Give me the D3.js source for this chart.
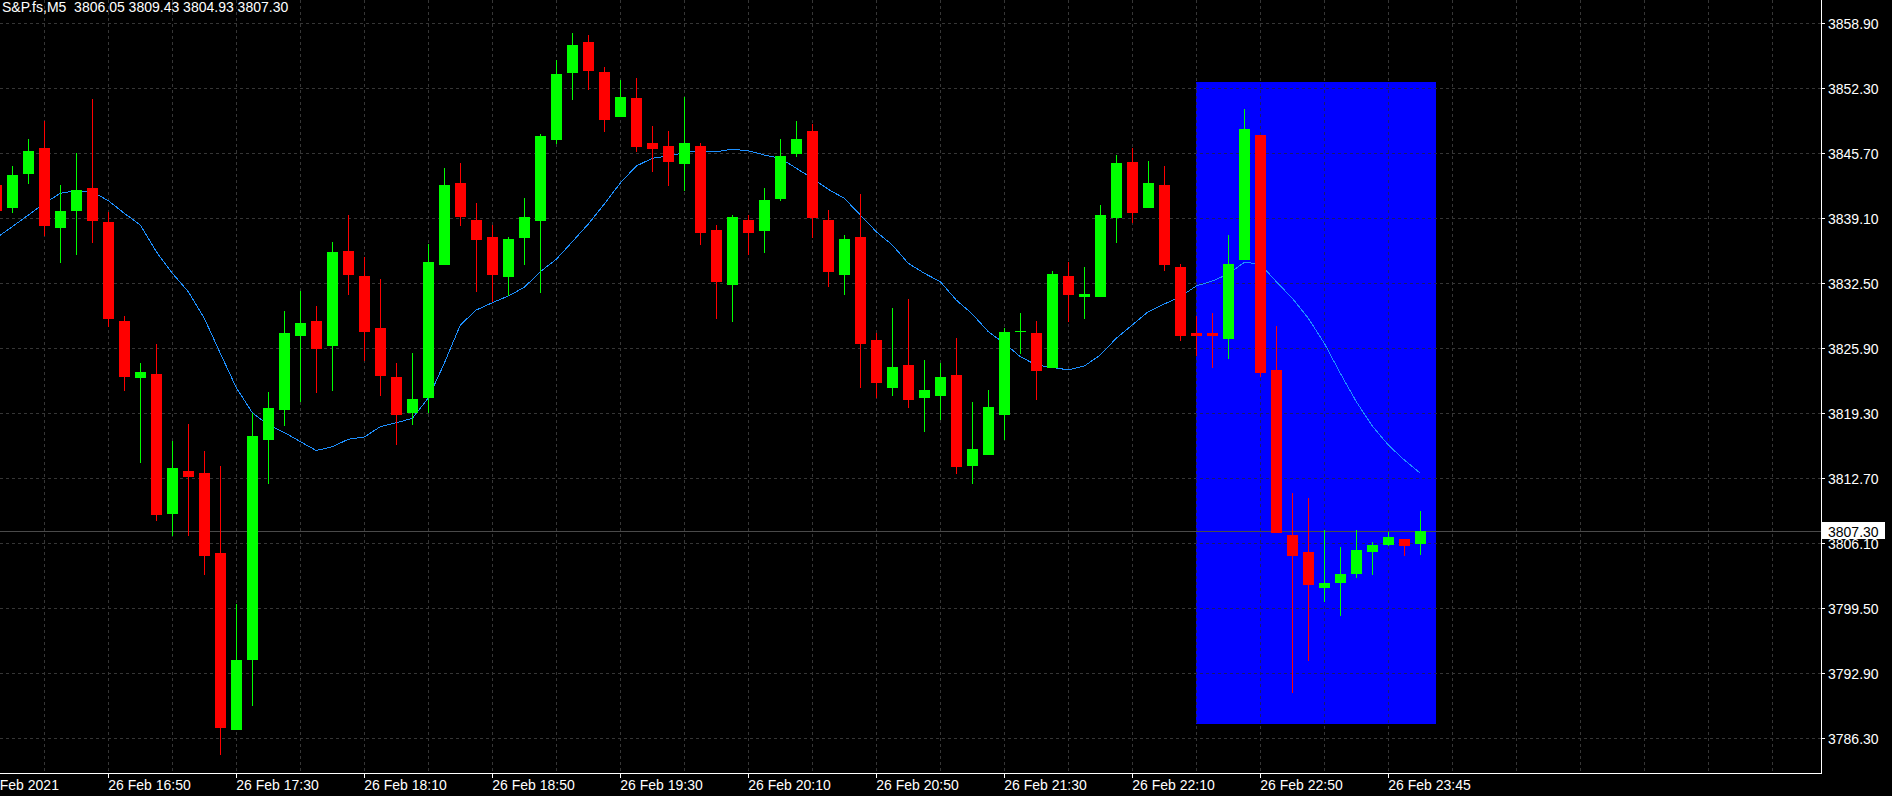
<!DOCTYPE html>
<html><head><meta charset="utf-8">
<script src="https://cdn.jsdelivr.net/npm/d3@7"></script>
<style>html,body{margin:0;padding:0;background:#000;overflow:hidden}</style>
</head><body>
<svg id="chart" width="1892" height="796"></svg>
<script>
// ---------- DATA ----------
const symbolTitle = "S&P.fs,M5";
const firstBar = -1;   // index of first candle (relative bar number)
const openP = [3842.48,3840.18,3843.63,3846.24,3838.15,3839.87,3842.18,3838.72,3828.67,3822.91,
3823.29,3809.10,3813.44,3813.24,3805.11,3787.14,3794.25,3816.59,3819.67,3827.18,
3828.67,3826.16,3835.78,3833.24,3827.96,3822.99,3819.33,3820.88,3834.39,3842.68,
3838.93,3837.20,3833.14,3837.10,3838.83,3847.08,3853.88,3857.00,3853.96,3849.39,
3851.32,3846.75,3846.44,3844.64,3846.44,3837.91,3832.36,3838.93,3837.84,3841.09,
3845.66,3847.96,3838.93,3833.37,3837.20,3826.74,3821.90,3824.20,3820.88,3821.09,
3823.19,3813.98,3815.10,3819.16,3827.55,3827.45,3823.93,3833.24,3831.14,3831.14,
3839.16,3844.82,3840.18,3842.48,3834.15,3827.45,3827.45,3826.87,3834.90,3847.56,
3823.69,3806.94,3805.22,3801.59,3802.10,3803.01,3805.25,3805.96,3806.54,3806.05];
const highP = [3842.70,3844.41,3847.15,3848.98,3842.48,3845.73,3851.21,3839.77,3829.18,3824.38,
3826.31,3816.49,3818.21,3815.47,3813.95,3799.94,3819.30,3821.46,3829.69,3831.72,
3830.20,3836.69,3839.43,3835.17,3832.94,3824.41,3825.42,3836.49,3844.21,3844.71,
3840.65,3838.42,3837.20,3841.16,3847.66,3855.17,3857.92,3857.71,3854.46,3853.14,
3853.35,3848.47,3847.96,3851.42,3846.75,3838.42,3839.43,3839.43,3842.18,3847.15,
3848.98,3848.68,3839.94,3837.40,3841.57,3827.45,3829.99,3830.91,3824.71,3824.41,
3826.95,3820.45,3821.67,3827.96,3829.48,3828.67,3833.75,3834.66,3834.15,3840.45,
3845.53,3846.24,3844.92,3844.41,3834.46,3829.18,3829.48,3837.40,3850.20,3847.56,
3828.16,3811.21,3810.70,3807.45,3805.72,3807.45,3806.23,3807.25,3806.54,3809.43];
const lowP = [3839.60,3839.67,3842.61,3837.30,3834.59,3835.40,3836.62,3828.06,3821.56,3814.22,
3808.39,3806.87,3806.87,3802.88,3784.60,3787.14,3789.61,3812.15,3818.04,3820.48,
3821.36,3821.59,3831.31,3824.61,3821.09,3816.11,3818.11,3819.36,3834.39,3838.35,
3831.65,3830.63,3831.24,3834.36,3831.51,3846.67,3851.14,3852.16,3847.89,3849.39,
3845.83,3843.83,3842.41,3841.90,3836.42,3828.87,3828.60,3835.40,3835.61,3840.89,
3845.35,3837.13,3832.15,3831.34,3821.90,3820.88,3821.09,3819.87,3817.43,3818.65,
3813.17,3812.15,3815.10,3816.62,3825.35,3820.68,3823.93,3828.60,3828.87,3831.14,
3836.62,3838.65,3840.18,3833.78,3826.67,3825.15,3823.93,3824.84,3834.90,3823.02,
3807.14,3790.90,3794.18,3800.17,3798.75,3802.61,3802.88,3805.86,3804.84,3804.93];
const closeP = [3839.87,3843.50,3845.93,3838.35,3839.84,3841.97,3838.86,3828.91,3823.02,3823.46,
3808.97,3813.75,3812.83,3804.84,3787.38,3794.25,3817.00,3819.84,3827.45,3828.47,
3825.83,3835.68,3833.34,3827.59,3823.12,3819.16,3820.75,3834.66,3842.48,3839.26,
3836.93,3833.34,3837.00,3839.23,3847.46,3853.75,3856.70,3854.09,3849.11,3851.42,
3846.34,3846.14,3844.85,3846.75,3837.64,3832.66,3839.23,3837.64,3840.96,3845.43,
3847.15,3839.16,3833.68,3837.00,3826.37,3822.41,3824.00,3820.68,3821.67,3822.99,
3813.88,3815.67,3819.94,3827.55,3827.66,3823.62,3833.44,3831.34,3831.41,3839.43,
3844.71,3839.67,3842.68,3834.39,3827.18,3827.18,3827.18,3834.46,3848.17,3823.42,
3807.14,3804.84,3801.90,3802.07,3802.98,3805.42,3805.93,3806.74,3805.86,3807.30];
const maP = [3837.10,3838.25,3839.43,3840.62,3841.64,3841.90,3841.80,3840.89,3839.61,3838.42,
3835.71,3833.52,3831.65,3828.95,3825.39,3821.90,3819.36,3818.11,3817.35,3816.42,
3815.52,3815.91,3816.66,3816.89,3817.94,3818.34,3818.79,3820.85,3824.38,3828.27,
3829.79,3830.53,3831.21,3832.09,3833.68,3834.94,3836.72,3838.52,3840.55,3842.68,
3844.41,3845.19,3845.43,3845.76,3845.96,3845.86,3846.11,3845.96,3845.53,3845.19,
3844.18,3843.16,3842.04,3841.13,3839.43,3837.74,3836.39,3834.53,3833.52,3832.66,
3830.80,3829.38,3827.59,3826.41,3825.05,3824.20,3823.97,3823.70,3824.10,3825.22,
3826.92,3828.27,3829.62,3830.40,3831.14,3832.23,3832.73,3833.44,3834.63,3834.46,
3832.66,3830.98,3828.95,3826.41,3823.36,3820.48,3818.01,3816.08,3814.56,3813.21];
const priceTicks = [3858.90,3852.30,3845.70,3839.10,3832.50,3825.90,3819.30,3812.70,3806.10,3799.50,3792.90,3786.30];
const timeTickBars = [-2,6,14,22,30,38,46,54,62,70,78,86];
const timeTickLabels = ["26 Feb 2021","26 Feb 16:50","26 Feb 17:30","26 Feb 18:10","26 Feb 18:50","26 Feb 19:30",
  "26 Feb 20:10","26 Feb 20:50","26 Feb 21:30","26 Feb 22:10","26 Feb 22:50","26 Feb 23:45"];
const lastPrice = 3807.30;
const rectBars = [74, 89];
const rectPrices = [3852.94, 3787.75];

// ---------- LAYOUT ----------
const W = 1892, H = 796;
const plotR = 1821, plotB = 773;
const FONT = "'Liberation Sans', Arial, sans-serif";

const svg = d3.select("#chart");
svg.append("rect").attr("width", W).attr("height", H).attr("fill", "#000");

const x = d3.scaleLinear().domain([-1, 88]).range([-3.7, 1420.3]);
const y = d3.scaleLinear().domain([3786.3, 3858.9]).range([738.3, 23.3]);

const defs = svg.append("defs");
defs.append("clipPath").attr("id", "plotClip").append("rect")
  .attr("x", 0).attr("y", 0).attr("width", plotR).attr("height", plotB);
const rx0 = x(rectBars[0]), rx1 = x(rectBars[1]);
const ry0 = y(rectPrices[0]), ry1 = y(rectPrices[1]);
defs.append("clipPath").attr("id", "rectClip").append("rect")
  .attr("x", rx0).attr("y", ry0).attr("width", rx1 - rx0).attr("height", ry1 - ry0);

const plot = svg.append("g").attr("clip-path", "url(#plotClip)");

// blue rectangle object
plot.append("rect")
  .attr("x", Math.round(rx0)).attr("y", Math.round(ry0))
  .attr("width", Math.round(rx1) - Math.round(rx0)).attr("height", Math.round(ry1) - Math.round(ry0))
  .attr("fill", "#0000ff");

// grid
const vGridBars = d3.range(2, 114, 4);
function drawGrid(g, color) {
  g.attr("shape-rendering", "crispEdges");
  g.selectAll("line.h").data(priceTicks).join("line")
    .attr("x1", 0).attr("x2", plotR)
    .attr("y1", d => Math.floor(y(d)) + 0.5).attr("y2", d => Math.floor(y(d)) + 0.5)
    .attr("stroke", color).attr("stroke-dasharray", "3,3");
  g.selectAll("line.v").data(vGridBars).join("line")
    .attr("y1", 0).attr("y2", plotB)
    .attr("x1", d => Math.floor(x(d)) + 0.5).attr("x2", d => Math.floor(x(d)) + 0.5)
    .attr("stroke", color).attr("stroke-dasharray", "3,3");
}
drawGrid(plot.append("g").attr("class", "grid"), "#363636");
drawGrid(plot.append("g").attr("clip-path", "url(#rectClip)"), "#1a1a6e");

// last price line
plot.append("line").attr("x1", 0).attr("x2", plotR)
  .attr("y1", Math.floor(y(lastPrice)) + 0.5).attr("y2", Math.floor(y(lastPrice)) + 0.5)
  .attr("stroke", "#4a4a4a").attr("shape-rendering", "crispEdges");

// moving average
const idx = d3.range(openP.length);
plot.append("path")
  .datum(idx)
  .attr("d", d3.line().x(i => x(firstBar + i)).y(i => y(maP[i])))
  .attr("fill", "none").attr("stroke", "#1e90ff").attr("stroke-width", 1)
  .attr("shape-rendering", "crispEdges");

// candles
const cg = plot.append("g").attr("shape-rendering", "crispEdges");
const col = i => closeP[i] >= openP[i] ? "#00ff00" : "#ff0000";
cg.selectAll("rect.wick").data(idx).join("rect")
  .attr("x", i => Math.floor(x(firstBar + i)))
  .attr("width", 1)
  .attr("y", i => Math.round(y(highP[i])))
  .attr("height", i => Math.max(1, Math.round(y(lowP[i])) - Math.round(y(highP[i]))))
  .attr("fill", col);
cg.selectAll("rect.body").data(idx).join("rect")
  .attr("x", i => Math.floor(x(firstBar + i)) - 5)
  .attr("width", 11)
  .attr("y", i => Math.round(y(Math.max(openP[i], closeP[i]))))
  .attr("height", i => Math.max(1, Math.round(y(Math.min(openP[i], closeP[i]))) - Math.round(y(Math.max(openP[i], closeP[i])))))
  .attr("fill", col);

// axes
svg.append("line").attr("x1", plotR + 0.5).attr("x2", plotR + 0.5).attr("y1", 0).attr("y2", plotB + 1)
  .attr("stroke", "#fff");
svg.append("line").attr("x1", 0).attr("x2", plotR + 1).attr("y1", plotB + 0.5).attr("y2", plotB + 0.5)
  .attr("stroke", "#fff");

// price labels
const pg = svg.append("g");
pg.selectAll("line").data(priceTicks).join("line")
  .attr("x1", plotR).attr("x2", plotR + 4)
  .attr("y1", d => Math.floor(y(d)) + 0.5).attr("y2", d => Math.floor(y(d)) + 0.5)
  .attr("stroke", "#fff");
pg.selectAll("text").data(priceTicks).join("text")
  .attr("x", plotR + 7).attr("y", d => y(d) + 5.5)
  .attr("fill", "#fff").attr("font-family", FONT).attr("font-size", 14)
  .text(d => d3.format(".2f")(d));

// time labels
const tg = svg.append("g");
tg.selectAll("line").data(timeTickBars).join("line")
  .attr("x1", d => Math.floor(x(d)) + 0.5).attr("x2", d => Math.floor(x(d)) + 0.5)
  .attr("y1", plotB).attr("y2", plotB + 5)
  .attr("stroke", "#fff");
tg.selectAll("text").data(timeTickLabels).join("text")
  .attr("x", (d, i) => x(timeTickBars[i])).attr("y", 790)
  .attr("fill", "#fff").attr("font-family", FONT).attr("font-size", 14)
  .text(d => d);

// last price box
const ly = y(lastPrice);
svg.append("rect").attr("x", plotR + 1).attr("y", Math.round(ly) - 9).attr("width", 63).attr("height", 17)
  .attr("fill", "#fff");
svg.append("text").attr("x", plotR + 7).attr("y", ly + 5.5)
  .attr("fill", "#000").attr("font-family", FONT).attr("font-size", 14)
  .text(d3.format(".2f")(lastPrice));

// title
const n = openP.length - 1;
svg.append("text").attr("x", 2).attr("y", 12)
  .attr("fill", "#fff").attr("font-family", FONT).attr("font-size", 14)
  .style("white-space", "pre")
  .text(symbolTitle + "  " + [openP[n], highP[n], lowP[n], closeP[n]].map(d3.format(".2f")).join(" "));
</script>
</body></html>
